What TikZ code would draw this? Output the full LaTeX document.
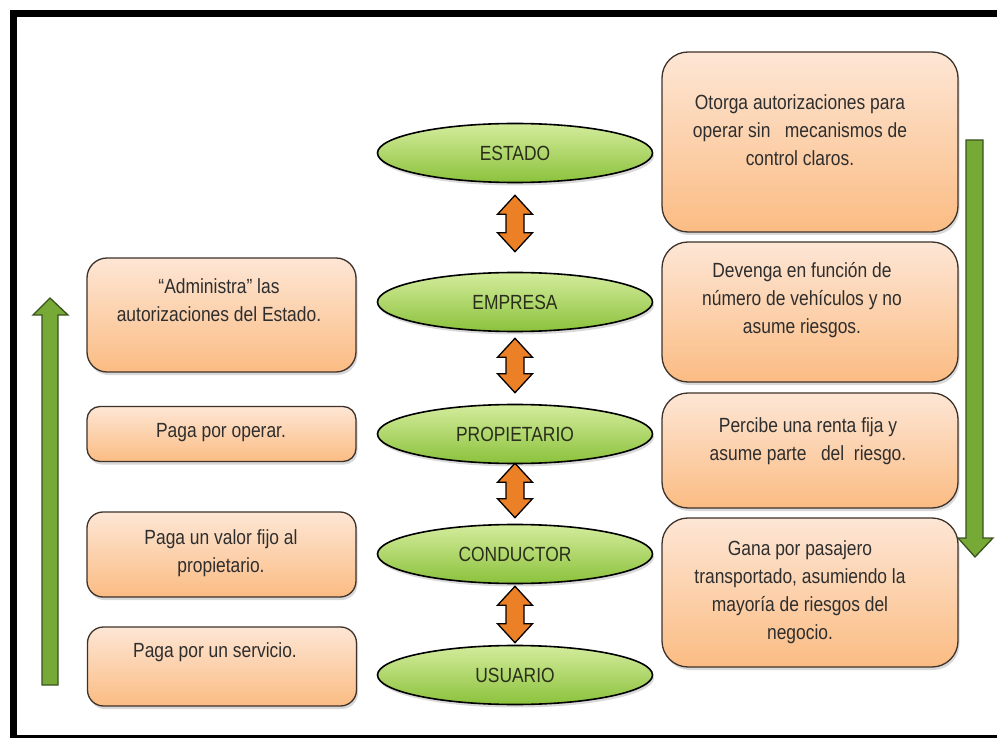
\documentclass[tikz,border=0pt]{standalone}
\usepackage{fontspec}
\setmainfont[FakeStretch=0.85]{Liberation Sans}
\usetikzlibrary{shapes.geometric,shadows,calc}
\definecolor{ink}{HTML}{2E2E2E}
\definecolor{ovalink}{HTML}{2A2E1A}
\definecolor{boxtop}{HTML}{FDE6D5}
\definecolor{boxbot}{HTML}{FBBC83}
\definecolor{boxline}{HTML}{3E322A}
\definecolor{ovaltop}{HTML}{D4EC9C}
\definecolor{ovalbot}{HTML}{8BC23C}
\definecolor{orlight}{HTML}{FBB060}
\definecolor{ordark}{HTML}{EC8026}
\definecolor{grlight}{HTML}{B0DC68}
\definecolor{grdark}{HTML}{76A936}
\definecolor{grline}{HTML}{3A5220}
\newcommand\dblarr[2]{%
  \path[dblarrow] (#1) -- ($(#1)+(17.5,19)$) -- ($(#1)+(9,19)$) -- ($(#2)+(9,-19)$)
    -- ($(#2)+(17.5,-19)$) -- (#2) -- ($(#2)+(-17.5,-19)$) -- ($(#2)+(-9,-19)$)
    -- ($(#1)+(-9,19)$) -- ($(#1)+(-17.5,19)$) -- cycle;}
\begin{document}
\begin{tikzpicture}[x=1pt,y=-1pt,
  txtfont/.style={font=\fontsize{20.5}{28}\selectfont},
  oval/.style={ellipse, minimum width=275pt, minimum height=59pt, inner sep=0pt,
    draw=black, line width=1.6pt, top color=ovaltop, bottom color=ovalbot,
    drop shadow={opacity=0.3, shadow xshift=1.5pt, shadow yshift=-3pt},
    text=ovalink, txtfont},
  box/.style={rectangle, rounded corners=20pt, inner sep=0pt, draw=boxline, line width=1.3pt,
    top color=boxtop, bottom color=boxbot,
    drop shadow={opacity=0.3, shadow xshift=1.5pt, shadow yshift=-3pt}},
  lbox/.style={box, minimum width=269pt},
  rbox/.style={box, minimum width=296pt, rounded corners=26pt},
  boxtext/.style={align=center, text=ink, txtfont, inner sep=0pt},
  dblarrow/.style={draw=black, line width=1.3pt, left color=ordark, middle color=orlight, right color=ordark},
  bigarrow/.style={draw=grline, line width=1.3pt, left color=grdark, middle color=grlight, right color=grdark}
]
\useasboundingbox (0,0) rectangle (997,738);
% frame
\draw[line width=7pt] (997,13.5) -- (13.5,13.5) -- (13.5,738);
\fill[black] (10,734.5) rectangle (997,738);

% green arrows
\path[bigarrow] (50,298) -- (68,315) -- (58,315) -- (58,685) -- (42,685) -- (42,315) -- (33,315) -- cycle;
\path[bigarrow] (966,140) -- (983,140) -- (983,538) -- (993,538) -- (975,557) -- (958,538) -- (966,538) -- cycle;

% ovals
\node[oval] (estado) at (515,153) {ESTADO};
\node[oval] (empresa) at (515,302) {EMPRESA};
\node[oval] (prop) at (515,434) {PROPIETARIO};
\node[oval] (cond) at (515,554) {CONDUCTOR};
\node[oval] (usu) at (515,675) {USUARIO};

% double arrows
\coordinate (a1t) at ($(estado.south)+(0,12)$);
\coordinate (a1b) at ($(empresa.north)+(0,-20)$);
\coordinate (a2t) at ($(empresa.south)+(0,6)$);
\coordinate (a2b) at ($(prop.north)+(0,-11)$);
\coordinate (a3t) at ($(prop.south)+(0,-1)$);
\coordinate (a3b) at ($(cond.north)+(0,-6)$);
\coordinate (a4t) at ($(cond.south)+(0,2)$);
\coordinate (a4b) at ($(usu.north)+(0,-2)$);
\dblarr{a1t}{a1b}
\dblarr{a2t}{a2b}
\dblarr{a3t}{a3b}
\dblarr{a4t}{a4b}

% left boxes
\node[lbox, minimum height=114pt] (l1) at (221.5,315) {};
\node[lbox, minimum height=55pt, rounded corners=13pt] (l2) at (221.5,434) {};
\node[lbox, minimum height=85pt, rounded corners=16pt] (l3) at (221.5,554.5) {};
\node[lbox, minimum height=79pt, rounded corners=16pt] (l4) at (222,666.5) {};
\node[boxtext] (l1t) at (219,300) {“Administra” las\\autorizaciones del Estado.};
\node[boxtext] (l2t) at (221,433) {Paga por operar.};
\node[boxtext] (l3t) at (221,553) {Paga un valor fijo al\\propietario.};
\node[boxtext] (l4t) at (215,652) {Paga por un servicio.};

% right boxes
\node[rbox, minimum height=180pt] (r1) at (810,142) {};
\node[rbox, minimum height=140pt] (r2) at (810,312) {};
\node[rbox, minimum height=115pt] (r3) at (810,450.5) {};
\node[rbox, minimum height=149pt] (r4) at (810,592.5) {};
\node[boxtext] (r1t) at (800,130) {Otorga autorizaciones para\\operar sin\ \ \ mecanismos de\\control claros.};
\node[boxtext] (r2t) at (802,300) {Devenga en función de\\número de vehículos y no\\asume riesgos.};
\node[boxtext] (r3t) at (808,441) {Percibe una renta fija y\\asume parte\ \ \ del\ \ riesgo.};
\node[boxtext] (r4t) at (800,592) {Gana por pasajero\\transportado, asumiendo la\\mayoría de riesgos del\\negocio.};
\end{tikzpicture}
\end{document}
